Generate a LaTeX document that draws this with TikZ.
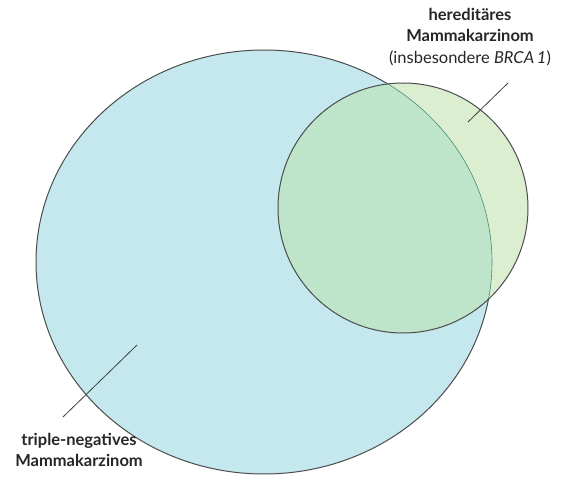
\documentclass[tikz,border=0pt]{standalone}
\usepackage{fontspec}
\setmainfont{Lato}
\begin{document}
\begin{tikzpicture}[x=1pt,y=-1pt,
  lbl/.style={font=\fontsize{16.5}{21.5}\selectfont, text=black!85, align=center, inner sep=0pt},
  leader/.style={draw=black!75, line width=0.8pt},
  outline/.style={draw=black!70, line width=1pt}]
\definecolor{bluefill}{RGB}{196,232,238}
\definecolor{greenfill}{RGB}{190,228,202}
\definecolor{lightgreen}{RGB}{220,238,208}
\definecolor{tealline}{RGB}{70,140,120}
\useasboundingbox (0,0) rectangle (565,478);
% big ellipse
\fill[bluefill] (264,262) ellipse [x radius=228, y radius=212];
% circle
\fill[lightgreen] (403,208) circle [radius=125];
\begin{scope}
  \clip (264,262) ellipse [x radius=228, y radius=212];
  \fill[greenfill] (403,208) circle [radius=125];
\end{scope}
\begin{scope}[even odd rule]
  \clip (0,0) rectangle (565,478) (403,208) circle [radius=125];
  \draw[outline] (264,262) ellipse [x radius=228, y radius=212];
\end{scope}
\begin{scope}
  \clip (403,208) circle [radius=125];
  \draw[tealline, line width=0.6pt] (264,262) ellipse [x radius=228, y radius=212];
\end{scope}
\draw[outline] (403,208) circle [radius=125];
% labels
\node[lbl] (her) at (470,37) {\textbf{hereditäres}\\\textbf{Mammakarzinom}\\(insbesondere \textit{BRCA\,1})};
\node[lbl] (tn) at (79,450) {\textbf{triple-negatives}\\\textbf{Mammakarzinom}};
\coordinate (h1) at (468,122);
\coordinate (h2) at (508,83);
\coordinate (t1) at (63,417);
\coordinate (t2) at (137,345);
\draw[leader] (h1) -- (h2);
\draw[leader] (t1) -- (t2);
\end{tikzpicture}
\end{document}
